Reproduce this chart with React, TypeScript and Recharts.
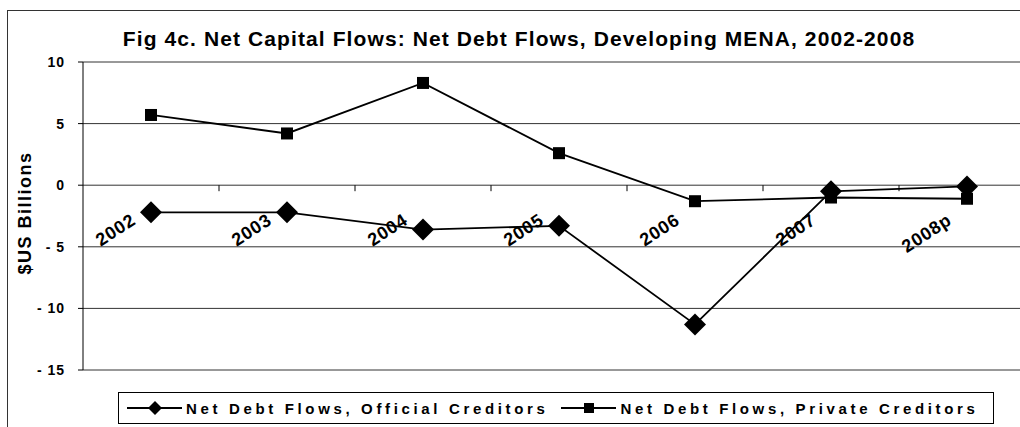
import { LineChart, Line, XAxis, YAxis, CartesianGrid, Legend } from "recharts"

const years = ["2002", "2003", "2004", "2005", "2006", "2007", "2008p"]
const officialCreditors = [-2.2, -2.2, -3.6, -3.3, -11.3, -0.5, -0.1]
const privateCreditors = [5.7, 4.2, 8.3, 2.6, -1.3, -1.0, -1.1]
const yTicks = [-15, -10, -5, 0, 5, 10]

const data = years.map((year, i) => ({
  year,
  official: officialCreditors[i],
  private: privateCreditors[i],
}))

const FONT = "Arial, 'Liberation Sans', sans-serif"
const CHART_W = 1040
const CHART_H = 427
const MARGIN = { top: 62, right: 5, left: 0, bottom: 56 }
const Y_AXIS_W = 83
const PLOT_W = CHART_W - MARGIN.left - MARGIN.right - Y_AXIS_W
const PLOT_H = CHART_H - MARGIN.top - MARGIN.bottom - 1
const BAND = PLOT_W / years.length
const Y_MIN = yTicks[0]
const Y_MAX = yTicks[yTicks.length - 1]
// the category axis crosses the value axis at 0
const ZERO_Y = MARGIN.top + (PLOT_H * Y_MAX) / (Y_MAX - Y_MIN)

function YearTick({ x, payload }: any) {
  const ax = x - 14
  const ay = ZERO_Y + 38
  return (
    <g>
      <line x1={x + BAND / 2} x2={x + BAND / 2} y1={ZERO_Y} y2={ZERO_Y + 6} stroke="#000" />
      <text
        x={ax}
        y={ay}
        transform={`rotate(-33, ${ax}, ${ay})`}
        textAnchor="end"
        fontFamily={FONT}
        fontWeight="bold"
        fontSize={18}
        letterSpacing={0.8}
        fill="#000"
      >
        {payload.value}
      </text>
    </g>
  )
}

const Diamond = ({ cx, cy, index }: any) => (
  <path
    key={`d${index}`}
    d={`M${cx},${cy - 11}L${cx + 11},${cy}L${cx},${cy + 11}L${cx - 11},${cy}Z`}
    fill="#000"
  />
)

const Square = ({ cx, cy, index }: any) => (
  <rect key={`s${index}`} x={cx - 6} y={cy - 6} width={12} height={12} fill="#000" />
)

function LegendBox() {
  const item = (label: string, marker: any) => (
    <div style={{ display: "flex", alignItems: "center" }}>
      <svg width={60} height={16}>
        <line x1={1} x2={56} y1={8} y2={8} stroke="#000" strokeWidth={2} />
        {marker}
      </svg>
      <span style={{ letterSpacing: 3.65 }}>{label}</span>
    </div>
  )
  return (
    <div
      style={{
        boxSizing: "border-box",
        width: 876,
        height: 32,
        border: "1px solid #000",
        display: "flex",
        alignItems: "center",
        gap: 12,
        paddingLeft: 7,
        fontFamily: FONT,
        fontWeight: "bold",
        fontSize: 15,
        color: "#000",
        background: "#fff",
      }}
    >
      {item("Net Debt Flows, Official Creditors", <path d="M29,1L36,8L29,15L22,8Z" fill="#000" />)}
      {item("Net Debt Flows, Private Creditors", <rect x={24} y={3} width={10} height={10} fill="#000" />)}
    </div>
  )
}

export default function App() {
  return (
    <div
      style={{
        position: "fixed",
        left: 0,
        top: 0,
        width: 1020,
        height: 427,
        overflow: "hidden",
        background: "#fff",
      }}
    >
      <div
        style={{
          position: "absolute",
          left: 7,
          top: 10,
          width: 1100,
          height: 500,
          border: "1px solid #333",
        }}
      />
      <div
        style={{
          position: "absolute",
          left: 0,
          top: 27,
          width: 1038,
          textAlign: "center",
          fontFamily: FONT,
          fontWeight: "bold",
          fontSize: 21,
          letterSpacing: 1.1,
          lineHeight: "24px",
        }}
      >
        Fig 4c. Net Capital Flows: Net Debt Flows, Developing MENA, 2002-2008
      </div>
      <div
        style={{
          position: "absolute",
          left: 25,
          top: 213,
          transform: "translate(-50%, -50%) rotate(-90deg)",
          whiteSpace: "nowrap",
          fontFamily: FONT,
          fontWeight: "bold",
          fontSize: 18,
          letterSpacing: 1.5,
          lineHeight: "20px",
        }}
      >
        $US Billions
      </div>
      <div style={{ position: "absolute", left: 0, top: 0 }}>
        <LineChart width={CHART_W} height={CHART_H} data={data} margin={MARGIN}>
          <CartesianGrid vertical={false} stroke="#333" />
          <XAxis
            dataKey="year"
            height={1}
            padding={{ left: BAND / 2, right: BAND / 2 }}
            axisLine={false}
            tickLine={false}
            tick={<YearTick />}
            interval={0}
          />
          <YAxis
            width={Y_AXIS_W}
            domain={[Y_MIN, Y_MAX]}
            ticks={yTicks}
            interval={0}
            axisLine={{ stroke: "#000" }}
            tickLine={{ stroke: "#000" }}
            tickSize={5}
            tickMargin={13}
            tickFormatter={(v: number) => (v < 0 ? `- ${-v}` : `${v}`)}
            tick={{ fill: "#000", fontFamily: FONT, fontWeight: "bold", fontSize: 14, letterSpacing: 1 }}
          />
          <Legend
            layout="horizontal"
            verticalAlign="middle"
            align="center"
            content={<LegendBox />}
            wrapperStyle={{ position: "absolute", left: 118, top: 392, width: 876, height: 32 }}
          />
          <Line
            dataKey="private"
            stroke="#000"
            strokeWidth={1.8}
            dot={<Square />}
            activeDot={false}
            isAnimationActive={false}
          />
          <Line
            dataKey="official"
            stroke="#000"
            strokeWidth={1.8}
            dot={<Diamond />}
            activeDot={false}
            isAnimationActive={false}
          />
        </LineChart>
      </div>
    </div>
  )
}
